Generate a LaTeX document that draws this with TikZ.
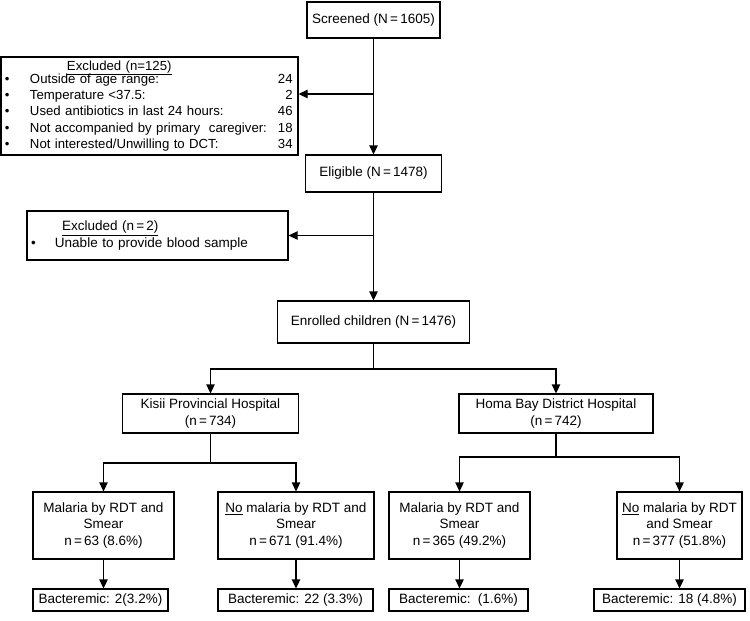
\documentclass[tikz,border=0pt]{standalone}
\usepackage{fontspec}
\setmainfont{Liberation Sans}
\usetikzlibrary{positioning, arrows.meta}

\begin{document}
\begin{tikzpicture}[
    % GLOBAL CFG
    x=1pt, y=-1pt,
    font=\fontsize{13.5}{16.5}\selectfont,
    >={Triangle[length=9pt,width=8.5pt]},
    % Styles
    box/.style={% For the flow boxes
        rectangle,
        draw,
        line width=1.3pt,
        inner sep=2pt,
        align=center,
        },
    exbox/.style={% For the boxes with the excluded children
        rectangle,
        draw,
        line width=1.3pt,
        inner xsep=4pt,
        inner ysep=2pt,
        align=left,
        },
    ArrowC1/.style={% Arrows
        ->,
        line width=1.3pt,
        },
    LineC1/.style={% Plain lines
        line width=1.3pt,
        },
    ]

\useasboundingbox (0,0) rectangle (750,621);

%Start drawing the thing...
    % Main column
    \node [box, minimum width=133pt, minimum height=36pt] (scr) at (373.5,20) {Screened (N\,=\,1605)};
    \node [box, minimum width=136pt, minimum height=37pt] (elig) at (373.5,173.5) {Eligible (N\,=\,1478)};
    \node [box, minimum width=192pt, minimum height=42pt] (enr) at (373.5,322) {Enrolled children (N\,=\,1476)};

    % Excluded boxes named exc#
    \node [exbox, text width=289pt, minimum height=98pt, font=\fontsize{13.2}{16.2}\selectfont] (exc1) at (149.5,106) {%
        \begin{tabular}{@{}p{25pt}@{}p{248pt}@{}r@{}}
            & \hspace*{37pt}\underline{Excluded (n=125)} & \\[-3pt]
            • & Outside of age range: & 24\\
            • & Temperature <37.5: & 2\\
            • & Used antibiotics in last 24 hours: & 46\\
            • & Not accompanied by primary\ \ caregiver: & 18\\
            • & Not interested/Unwilling to DCT: & 34
        \end{tabular}};
    \node [exbox, text width=253pt, minimum height=49pt] (exc2) at (157.5,235.5) {%
        \begin{tabular}{@{}p{24pt}@{}l@{}}
            & \hspace*{7pt}\underline{Excluded (n\,=\,2)}\\
            • & Unable to provide blood sample
        \end{tabular}};

    % Hospitals
    \node [box, minimum width=176pt, minimum height=39pt] (kisii) at (210.5,413.5) {Kisii Provincial Hospital\\(n\,=\,734)};
    \node [box, minimum width=194pt, minimum height=39pt] (homa) at (556,413.5) {Homa Bay District Hospital\\(n\,=\,742)};

    % Malaria groups
    \node [box, minimum width=141pt, minimum height=67pt] (km) at (103.5,525.5) {Malaria by RDT and\\Smear\\n\,=\,63 (8.6\%)};
    \node [box, minimum width=156pt, minimum height=67pt] (kn) at (296,525.5) {\underline{No} malaria by RDT and\\Smear\\n\,=\,671 (91.4\%)};
    \node [box, minimum width=141pt, minimum height=67pt] (hm) at (459.5,525.5) {Malaria by RDT and\\Smear\\n\,=\,365 (49.2\%)};
    \node [box, minimum width=125pt, minimum height=67pt] (hn) at (679.5,525.5) {\underline{No} malaria by RDT\\and Smear\\n\,=\,377 (51.8\%)};

    % Bacteremic
    \node [box, minimum width=135pt, minimum height=22pt] (kmb) at (100.5,600) {Bacteremic: 2(3.2\%)};
    \node [box, minimum width=155pt, minimum height=22pt] (knb) at (295.5,600) {Bacteremic: 22 (3.3\%)};
    \node [box, minimum width=139pt, minimum height=22pt] (hmb) at (458.5,600) {Bacteremic:\ \ (1.6\%)};
    \node [box, minimum width=151pt, minimum height=22pt] (hnb) at (669.5,600) {Bacteremic: 18 (4.8\%)};

% Start connecting all.
    % Main column
    \draw [ArrowC1] (scr) -- (elig);
    \coordinate (j1) at (373.5,94);
    \draw [ArrowC1] (j1) -- (j1 -| exc1.east);
    \draw [ArrowC1] (elig) -- (enr);
    \draw [ArrowC1] (elig.south |- exc2) -- (exc2);

    % Split by hospital
    \coordinate (split1) at (373.5,369);
    \draw [LineC1] (enr) -- (split1);
    \draw [ArrowC1] (split1) -| (kisii);
    \draw [ArrowC1] (split1) -| (homa);

    % Split by malaria
    \coordinate (split2) at (210.5,463);
    \draw [LineC1] (kisii) -- (split2);
    \draw [ArrowC1] (split2) -| (km);
    \draw [ArrowC1] (split2) -| (kn);
    \coordinate (split3) at (556,457);
    \draw [LineC1] (homa) -- (split3);
    \draw [ArrowC1] (split3) -| (hm);
    \draw [ArrowC1] (split3) -| (hn);

    % Bacteremic
    \draw [ArrowC1] (km) -- (km |- kmb.north);
    \draw [ArrowC1] (kn) -- (kn |- knb.north);
    \draw [ArrowC1] (hm) -- (hm |- hmb.north);
    \draw [ArrowC1] (hn) -- (hn |- hnb.north);

\end{tikzpicture}
\end{document}
